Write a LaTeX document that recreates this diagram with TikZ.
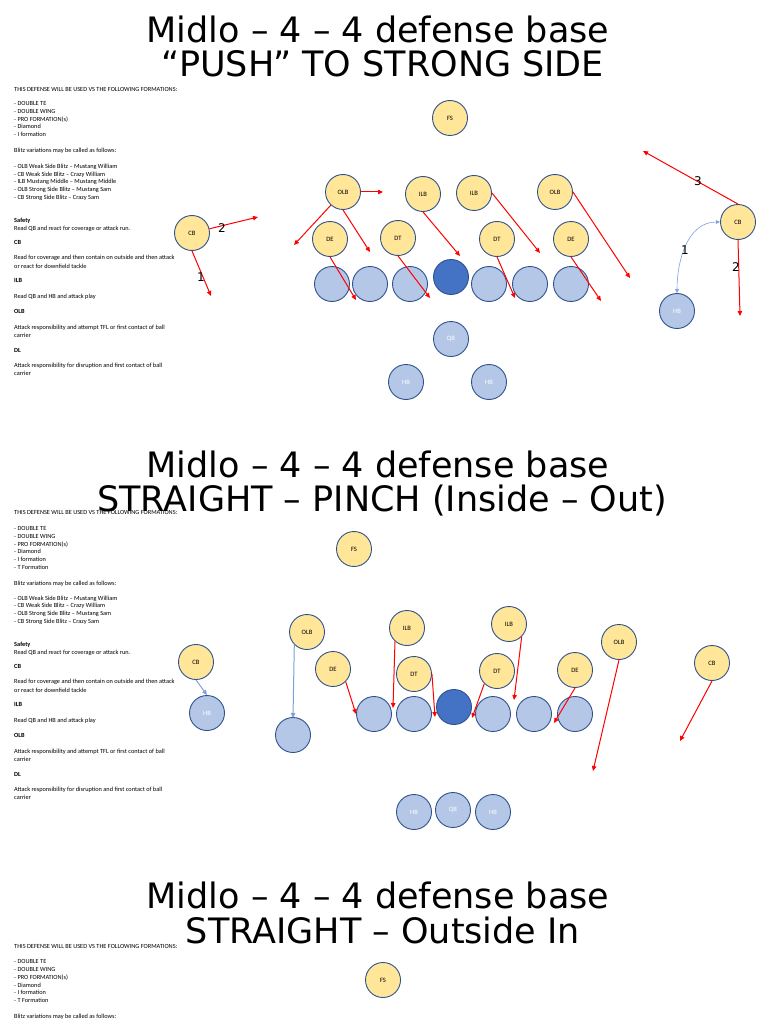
\documentclass[tikz,border=0pt]{standalone}
\usepackage{fontspec}
\setmainfont{Carlito}
\newfontfamily\titlefont{DejaVu Sans}
\usepackage{xcolor}
\usepackage{tikz}
\usetikzlibrary{arrows.meta}

\definecolor{defyellow}{HTML}{FFE699}
\definecolor{offblue}{HTML}{B4C7E7}
\definecolor{snapblue}{HTML}{4472C4}
\definecolor{rimblue}{HTML}{2F528F}
\definecolor{routeblue}{HTML}{7F9FDA}

% role notes shared by the first two plays
\newcommand{\rolenotes}{\textbf{Safety}\\
Read QB and react for coverage or attack run.\\[7pt]
\textbf{CB}\\[7pt]
Read for coverage and then contain on outside and then attack\\[1pt]
or react for downfield tackle\\[6.5pt]
\textbf{ILB}\\[8pt]
Read QB and HB and attack play\\[7.5pt]
\textbf{OLB}\\[7.5pt]
Attack responsibility and attempt TFL or first contact of ball\\
carrier\\[7.5pt]
\textbf{DL}\\[7.5pt]
Attack responsibility for disruption and first contact of ball\\
carrier}

\begin{document}
\begin{tikzpicture}[x=1pt, y=-1pt,
	player/.style={circle, draw=rimblue, line width=0.9pt, minimum size=35pt, inner sep=0pt, font=\fontsize{6.6}{7}\selectfont},
	defender/.style={player, fill=defyellow},
	blocker/.style={player, fill=offblue, text=white},
	snapper/.style={player, fill=snapblue},
	blitz/.style={draw=red, line width=1pt, -{Triangle[length=5pt,width=4.4pt]}},
	cover/.style={draw=routeblue, line width=1pt, -{Triangle[length=5pt,width=4.4pt]}},
	routeno/.style={font=\titlefont\fontsize{12}{12}\selectfont, inner sep=0pt},
	headline/.style={font=\titlefont\fontsize{35}{36}\selectfont, anchor=base, inner sep=0pt},
	notes/.style={anchor=north west, inner sep=0pt, align=left, font=\fontsize{6.3}{7.8}\selectfont}]
	\useasboundingbox (0,0) rectangle (768,1024);
	\fill[white] (0,0) rectangle (768,1024);

	% ---------- PUSH to strong side
	\node[headline] (headA1) at (378,43) {Midlo – 4 – 4 defense base};
	\node[headline] (headA2) at (383,77) {“PUSH” TO STRONG SIDE};
	\node[notes] (notesA) at (14,87.5) {THIS DEFENSE WILL BE USED VS THE FOLLOWING FORMATIONS:\\[6pt]
		- DOUBLE TE\\ - DOUBLE WING\\ - PRO FORMATION(s)\\ - Diamond\\ - I formation\\[8pt]
		Blitz variations may be called as follows:\\[8pt]
		- OLB Weak Side Blitz – Mustang William\\ - CB Weak Side Blitz – Crazy William\\
		- ILB Mustang Middle – Mustang Middle\\ - OLB Strong Side Blitz – Mustang Sam\\
		- CB Strong Side Blitz – Crazy Sam\\[15pt]
		\rolenotes};

	\node[defender] (fsA) at (450,118) {FS};
	\node[defender] (olbA1) at (343,192) {OLB};
	\node[defender] (ilbA1) at (423,194) {ILB};
	\node[defender] (ilbA2) at (474,193) {ILB};
	\node[defender] (olbA2) at (555,192) {OLB};
	\node[defender] (cbA1) at (192,233) {CB};
	\node[defender] (deA1) at (330,239) {DE};
	\node[defender] (dtA1) at (398,238) {DT};
	\node[defender] (dtA2) at (497,239) {DT};
	\node[defender] (deA2) at (571,239) {DE};
	\node[defender] (cbA2) at (738,222) {CB};
	\node[blocker] (oA1) at (332,284) {};
	\node[blocker] (oA2) at (370,284) {};
	\node[blocker] (oA3) at (410,284) {};
	\node[snapper] (snapA) at (451,277) {};
	\node[blocker] (oA4) at (489,284) {};
	\node[blocker] (oA5) at (530,284) {};
	\node[blocker] (oA6) at (571,284) {};
	\node[blocker] (qbA) at (451,339) {QB};
	\node[blocker] (hbA1) at (406,382) {HB};
	\node[blocker] (hbA2) at (489,382) {HB};
	\node[blocker] (hbA3) at (677,311) {HB};

	\coordinate (cbA1a) at (258,217);
	\coordinate (cbA1b) at (211,296);
	\coordinate (olbA1a) at (383,192);
	\coordinate (olbA1b) at (294,245);
	\coordinate (olbA1c) at (370,252);
	\coordinate (deA1a) at (356,300);
	\coordinate (dtA1a) at (430,298);
	\coordinate (ilbA1a) at (460,256);
	\coordinate (ilbA2a) at (540,253);
	\coordinate (olbA2a) at (630,278);
	\coordinate (dtA2a) at (515,298);
	\coordinate (deA2a) at (601,301);
	\coordinate (cbA2a) at (643,151);
	\coordinate (cbA2b) at (740,316);

	\draw[blitz] (cbA1) -- (cbA1a);
	\draw[blitz] (cbA1.south) -- (cbA1b);
	\draw[blitz] (olbA1) -- (olbA1a);
	\draw[blitz] (olbA1) -- (olbA1b);
	\draw[blitz] (olbA1.south) -- (olbA1c);
	\draw[blitz] (deA1.south) -- (deA1a);
	\draw[blitz] (dtA1.south) -- (dtA1a);
	\draw[blitz] (ilbA1.south) -- (ilbA1a);
	\draw[blitz] (ilbA2.east) -- (ilbA2a);
	\draw[blitz] (olbA2.east) -- (olbA2a);
	\draw[blitz] (dtA2.south) -- (dtA2a);
	\draw[blitz] (deA2.south) -- (deA2a);
	\draw[blitz] (cbA2.north) -- (cbA2a);
	\draw[blitz] (cbA2.south) -- (cbA2b);
	\draw[cover, line width=0.6pt, {Triangle[length=4pt,width=3.5pt]}-{Triangle[length=4pt,width=3.5pt]}] (hbA3.north) to[out=90, in=180] (cbA2.west);

	\node[routeno] (noA1) at (222,228) {2};
	\node[routeno] (noA2) at (201,277) {1};
	\node[routeno] (noA3) at (698,181) {3};
	\node[routeno] (noA4) at (685,250) {1};
	\node[routeno] (noA5) at (736,267) {2};

	% ---------- STRAIGHT - PINCH
	\node[headline] (headB1) at (378,477) {Midlo – 4 – 4 defense base};
	\node[headline] (headB2) at (382,511) {STRAIGHT – PINCH (Inside – Out)};
	\node[notes] (notesB) at (14,510.5) {THIS DEFENSE WILL BE USED VS THE FOLLOWING FORMATIONS:\\[8pt]
		- DOUBLE TE\\ - DOUBLE WING\\ - PRO FORMATION(s)\\ - Diamond\\ - I formation\\ - T Formation\\[8pt]
		Blitz variations may be called as follows:\\[7pt]
		- OLB Weak Side Blitz – Mustang William\\ - CB Weak Side Blitz – Crazy William\\
		- OLB Strong Side Blitz – Mustang Sam\\ - CB Strong Side Blitz – Crazy Sam\\[15pt]
		\rolenotes};

	\node[defender] (fsB) at (354,549) {FS};
	\node[defender] (olbB1) at (307,632) {OLB};
	\node[defender] (ilbB1) at (407,628) {ILB};
	\node[defender] (ilbB2) at (509,624) {ILB};
	\node[defender] (olbB2) at (619,642) {OLB};
	\node[defender] (cbB1) at (196,662) {CB};
	\node[defender] (deB1) at (333,669) {DE};
	\node[defender] (dtB1) at (414,674) {DT};
	\node[defender] (dtB2) at (497,671) {DT};
	\node[defender] (deB2) at (575,670) {DE};
	\node[defender] (cbB2) at (712,663) {CB};
	\node[blocker] (hbB1) at (207,713) {HB};
	\node[blocker] (oB0) at (293,735) {};
	\node[blocker] (oB1) at (374,714) {};
	\node[blocker] (oB2) at (414,714) {};
	\node[snapper] (snapB) at (454,707) {};
	\node[blocker] (oB3) at (493,714) {};
	\node[blocker] (oB4) at (534,714) {};
	\node[blocker] (oB5) at (575,714) {};
	\node[blocker] (hbB2) at (414,812) {HB};
	\node[blocker] (qbB) at (453,810) {QB};
	\node[blocker] (hbB3) at (493,812) {HB};

	\coordinate (olbB1a) at (293,718);
	\coordinate (deB1a) at (356,714);
	\coordinate (ilbB1a) at (393,708);
	\coordinate (dtB1a) at (435,717);
	\coordinate (dtB2a) at (472,718);
	\coordinate (ilbB2a) at (514,700);
	\coordinate (deB2a) at (554,723);
	\coordinate (olbB2a) at (593,771);
	\coordinate (cbB2a) at (680,741);

	\draw[cover] (cbB1.south) -- (hbB1.north);
	\draw[cover] (olbB1.225) -- (olbB1a);
	\draw[blitz] (deB1.-45) -- (deB1a);
	\draw[blitz] (ilbB1.228) -- (ilbB1a);
	\draw[blitz] (dtB1.east) -- (dtB1a);
	\draw[blitz] (dtB2.225) -- (dtB2a);
	\draw[blitz] (ilbB2.-45) -- (ilbB2a);
	\draw[blitz] (deB2.south) -- (deB2a);
	\draw[blitz] (olbB2.south) -- (olbB2a);
	\draw[blitz] (cbB2.south) -- (cbB2a);

	% ---------- STRAIGHT - Outside In
	\node[headline] (headC1) at (378,908) {Midlo – 4 – 4 defense base};
	\node[headline] (headC2) at (383,943) {STRAIGHT – Outside In};
	\node[notes] (notesC) at (14,944.5) {THIS DEFENSE WILL BE USED VS THE FOLLOWING FORMATIONS:\\[7pt]
		- DOUBLE TE\\ - DOUBLE WING\\ - PRO FORMATION(s)\\ - Diamond\\ - I formation\\ - T Formation\\[8pt]
		Blitz variations may be called as follows:};

	\node[defender] (fsC) at (383,980) {FS};
\end{tikzpicture}
\end{document}
